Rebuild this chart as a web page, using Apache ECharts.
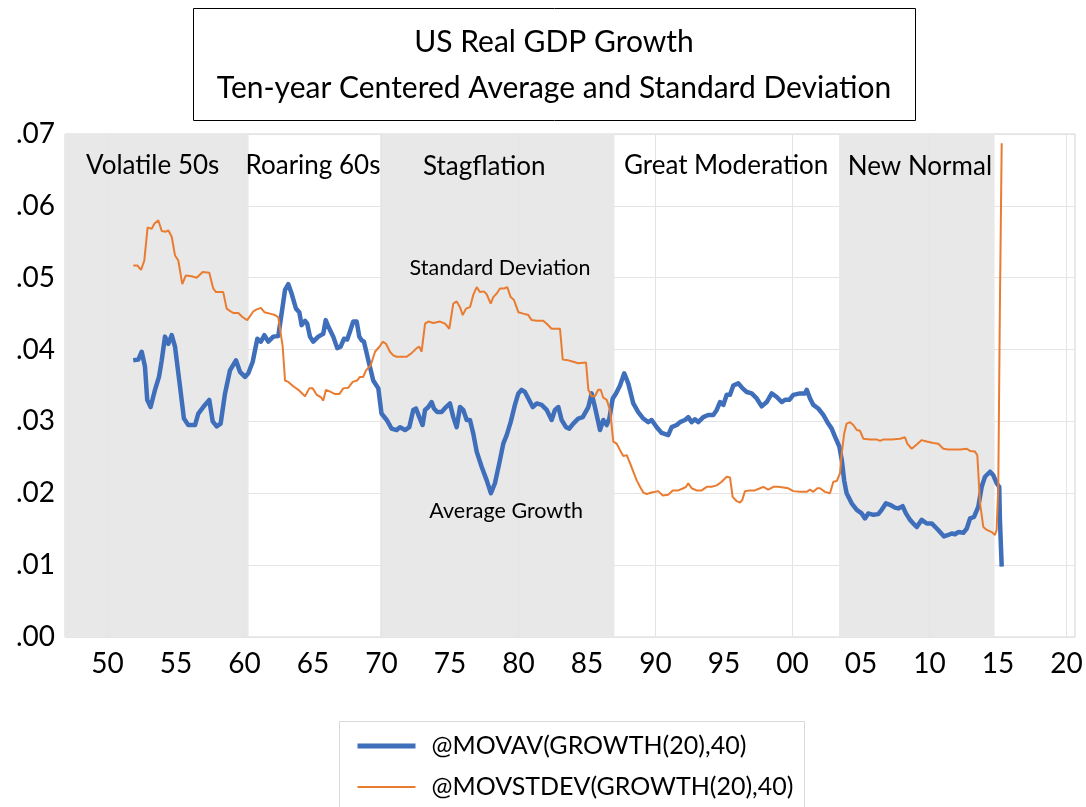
<!DOCTYPE html>
<html><head><meta charset="utf-8">
<script src="https://cdn.jsdelivr.net/npm/echarts@6/dist/echarts.min.js"></script>
<style>html,body{margin:0;padding:0;background:#fff}#c{width:1086px;height:807px}</style>
</head><body><div id="c"></div>
<script>
// ---------- data ----------
const avgYears = [1951.88,1952.25,1952.5,1952.74,1952.9,1953.15,1953.47,1953.76,1953.96,1954.2,1954.44,1954.69,1954.93,1955.24,1955.58,1955.9,1956.39,1956.63,1956.99,1957.43,1957.68,1957.97,1958.26,1958.58,1958.94,1959.38,1959.67,1960.04,1960.28,1960.6,1960.94,1961.2,1961.45,1961.74,1962.1,1962.47,1962.71,1962.96,1963.2,1963.44,1963.76,1964.0,1964.17,1964.42,1964.58,1964.78,1965.02,1965.39,1965.75,1965.93,1966.12,1966.48,1966.77,1967.02,1967.26,1967.5,1967.7,1967.94,1968.19,1968.38,1968.55,1968.72,1969.04,1969.4,1969.77,1970.0,1970.38,1970.74,1971.11,1971.35,1971.72,1972.03,1972.32,1972.52,1972.76,1973.0,1973.18,1973.42,1973.66,1973.83,1974.07,1974.39,1974.71,1975.0,1975.24,1975.49,1975.73,1975.97,1976.22,1976.46,1976.7,1976.95,1977.31,1977.68,1977.99,1978.28,1978.6,1978.89,1979.14,1979.43,1979.74,1979.99,1980.23,1980.47,1980.72,1981.04,1981.33,1981.69,1982.06,1982.42,1982.66,1982.91,1983.15,1983.47,1983.71,1984.0,1984.36,1984.69,1985.1,1985.34,1985.58,1985.95,1986.19,1986.44,1986.63,1986.88,1987.12,1987.41,1987.72,1988.01,1988.38,1988.74,1989.11,1989.47,1989.72,1990.09,1990.45,1990.93,1991.18,1991.55,1991.79,1992.15,1992.39,1992.64,1992.88,1993.12,1993.49,1993.85,1994.22,1994.47,1994.71,1994.95,1995.2,1995.44,1995.68,1996.04,1996.36,1996.66,1997.02,1997.39,1997.75,1998.12,1998.48,1998.85,1999.21,1999.45,1999.77,2000.06,2000.55,2000.91,2001.04,2001.28,2001.52,2001.88,2002.25,2002.61,2002.86,2003.1,2003.42,2003.6,2003.77,2003.95,2004.32,2004.69,2005.05,2005.29,2005.53,2005.9,2006.26,2006.51,2006.82,2007.12,2007.48,2007.72,2008.04,2008.28,2008.58,2008.82,2009.07,2009.43,2009.8,2010.16,2010.53,2010.77,2011.06,2011.37,2011.62,2011.86,2012.1,2012.47,2012.72,2012.96,2013.25,2013.56,2013.81,2014.05,2014.42,2014.66,2014.9,2015.09,2015.14,2015.27];
const avgValues = [.0385,.0386,.0397,.0376,.0330,.0320,.0344,.0362,.0385,.0418,.0408,.0420,.0404,.0357,.0304,.0295,.0295,.0311,.0320,.0330,.0300,.0293,.0297,.0339,.0371,.0385,.0369,.0362,.0367,.0383,.0415,.0411,.0420,.0411,.0418,.0419,.0450,.0483,.0491,.0478,.0457,.0452,.0434,.0440,.0436,.0418,.0411,.0418,.0422,.0441,.0432,.0418,.0402,.0404,.0415,.0414,.0425,.0439,.0439,.0418,.0413,.0411,.0385,.0357,.0346,.0311,.0302,.0290,.0288,.0292,.0288,.0292,.0316,.0318,.0306,.0295,.0316,.0320,.0327,.0318,.0313,.0313,.0320,.0325,.0306,.0292,.0320,.0316,.0302,.0302,.0283,.0258,.0237,.0218,.0200,.0214,.0242,.0269,.0281,.0299,.0323,.0339,.0344,.0341,.0332,.0320,.0325,.0323,.0316,.0302,.0316,.0320,.0302,.0292,.0290,.0297,.0304,.0306,.0320,.0339,.0320,.0288,.0302,.0295,.0304,.0332,.0339,.0350,.0367,.0353,.0325,.0313,.0304,.0299,.0302,.0292,.0284,.0281,.0292,.0295,.0299,.0302,.0306,.0299,.0303,.0299,.0306,.0309,.0309,.0316,.0327,.0323,.0337,.0337,.0350,.0353,.0346,.0341,.0339,.0332,.0321,.0327,.0339,.0334,.0327,.0330,.0330,.0337,.0339,.0339,.0344,.0332,.0323,.0318,.0309,.0297,.0290,.0279,.0265,.0246,.0218,.0200,.0186,.0177,.0172,.0165,.0172,.0170,.0171,.0177,.0186,.0184,.0180,.0179,.0182,.0172,.0163,.0158,.0153,.0163,.0158,.0158,.0151,.0146,.0140,.0142,.0144,.0143,.0146,.0145,.0151,.0165,.0167,.0181,.0209,.0223,.0230,.0225,.0214,.0209,.0163,.0098];

const sdYears = [1951.88,1952.18,1952.45,1952.69,1952.93,1953.23,1953.42,1953.71,1953.96,1954.27,1954.44,1954.69,1954.93,1955.17,1955.46,1955.71,1956.15,1956.51,1956.95,1957.43,1957.72,1957.92,1958.45,1958.7,1958.99,1959.18,1959.55,1959.87,1960.2,1960.64,1960.89,1961.2,1961.45,1961.86,1962.23,1962.47,1962.79,1962.96,1963.2,1963.56,1963.93,1964.42,1964.73,1964.98,1965.27,1965.56,1965.75,1965.95,1966.29,1966.61,1966.92,1967.21,1967.58,1967.9,1968.23,1968.43,1968.67,1968.87,1969.21,1969.53,1969.89,1970.09,1970.33,1970.62,1970.86,1971.11,1971.84,1972.2,1972.57,1972.76,1972.93,1973.18,1973.42,1973.78,1974.27,1974.64,1974.95,1975.24,1975.49,1975.73,1975.93,1976.17,1976.46,1976.7,1976.95,1977.19,1977.48,1977.68,1977.97,1978.16,1978.41,1978.65,1978.94,1979.18,1979.43,1979.67,1979.99,1980.35,1980.72,1980.96,1981.33,1981.81,1982.06,1982.42,1983.03,1983.23,1983.64,1984.0,1984.36,1984.93,1985.1,1985.34,1985.58,1985.82,1986.0,1986.19,1986.44,1986.68,1986.92,1987.17,1987.41,1987.65,1987.9,1988.14,1988.38,1988.63,1988.87,1989.11,1989.36,1989.72,1990.2,1990.53,1990.93,1991.26,1991.66,1992.03,1992.23,1992.39,1992.64,1993.0,1993.37,1993.74,1994.1,1994.47,1994.83,1995.2,1995.44,1995.63,1995.93,1996.17,1996.34,1996.53,1996.9,1997.26,1997.63,1997.87,1998.23,1998.6,1998.96,1999.33,1999.69,2000.06,2000.55,2001.04,2001.28,2001.52,2001.81,2002.01,2002.37,2002.74,2002.98,2003.23,2003.47,2003.59,2003.77,2003.95,2004.2,2004.44,2004.69,2004.93,2005.17,2005.66,2006.15,2006.39,2006.63,2007.24,2007.85,2008.21,2008.38,2008.7,2009.07,2009.43,2009.8,2010.28,2010.64,2011.01,2011.37,2011.74,2012.23,2012.72,2012.96,2013.32,2013.49,2013.69,2013.93,2014.18,2014.54,2014.78,2014.9,2015.02,2015.14,2015.27];
const sdValues = [.0517,.0517,.0511,.0524,.0570,.0568,.0575,.0580,.0565,.0564,.0566,.0557,.0531,.0524,.0491,.0503,.0502,.0500,.0508,.0507,.0485,.0480,.0480,.0457,.0453,.0451,.0451,.0445,.0441,.0453,.0456,.0458,.0452,.0450,.0448,.0445,.0404,.0357,.0355,.0349,.0344,.0335,.0346,.0346,.0337,.0334,.0329,.0344,.0341,.0338,.0338,.0346,.0347,.0355,.0357,.0362,.0362,.0371,.0378,.0397,.0405,.0411,.0408,.0397,.0392,.0390,.0390,.0395,.0402,.0404,.0397,.0436,.0439,.0437,.0439,.0436,.0429,.0464,.0467,.0459,.0448,.0457,.0459,.0476,.0487,.0480,.0481,.0477,.0464,.0473,.0478,.0485,.0485,.0487,.0473,.0469,.0452,.0450,.0448,.0441,.0440,.0440,.0436,.0429,.0429,.0386,.0385,.0383,.0381,.0382,.0344,.0335,.0335,.0344,.0344,.0333,.0330,.0316,.0272,.0269,.0260,.0252,.0253,.0242,.0230,.0218,.0209,.0201,.0199,.0201,.0203,.0197,.0198,.0204,.0204,.0207,.0209,.0214,.0207,.0204,.0204,.0209,.0209,.0211,.0216,.0223,.0222,.0195,.0189,.0187,.0191,.0203,.0204,.0204,.0207,.0209,.0205,.0209,.0209,.0208,.0207,.0203,.0202,.0202,.0205,.0202,.0207,.0207,.0202,.0200,.0216,.0217,.0228,.0255,.0283,.0297,.0299,.0295,.0288,.0287,.0276,.0275,.0275,.0273,.0275,.0275,.0276,.0278,.0269,.0262,.0268,.0274,.0272,.0270,.0269,.0262,.0261,.0261,.0261,.0262,.0259,.0258,.0253,.0186,.0153,.0149,.0146,.0142,.0149,.0209,.0464,.0687];

const xTickYears = [1950,1955,1960,1965,1970,1975,1980,1985,1990,1995,2000,2005,2010,2015,2020];
const xGridYears = [1950,1960,1970,1980,1990,2000,2010,2020];
const shadedEras = [[1946.9,1960.3],[1969.9,1987.0],[2003.4,2014.75]];
const eraNames = ['Volatile 50s','Roaring 60s','Stagflation','Great Moderation','New Normal'];
const seriesNames = ['@MOVAV(GROWTH(20),40)','@MOVSTDEV(GROWTH(20),40)'];
const titleLines = ['US Real GDP Growth','Ten-year Centered Average and Standard Deviation'];
const lineNotes = ['Standard Deviation','Average Growth'];

// ---------- chart ----------
const FONT = 'Lato, "Noto Sans", sans-serif';
const BLUE = '#3F6EBB', ORANGE = '#E97C30';
const zip = (xs, ys) => xs.map((x, i) => [x, ys[i]]);
const chart = echarts.init(document.getElementById('c'), null, {renderer: 'canvas'});

const eraLabelPos = [[1953.3,0.0656],[1965.0,0.0656],[1977.5,0.0654],[1995.15,0.0656],[2009.3,0.0654]];
const notePos = [[1978.65,0.0513],[1979.1,0.0175]];

chart.setOption({
  animation: false,
  backgroundColor: '#fff',
  textStyle: {fontFamily: FONT},
  grid: {left: 65, right: 11, top: 134, bottom: 170, show: true, borderColor: '#d4d4d4', borderWidth: 1, backgroundColor: '#fff'},
  graphic: [
    {type: 'rect', left: 193, top: 8, shape: {width: 722, height: 112}, style: {fill: '#fff', stroke: '#000', lineWidth: 1}, z: 10},
    {type: 'text', x: 554, y: 42, style: {text: titleLines[0], font: '30px ' + FONT, fill: '#000', textAlign: 'center', textVerticalAlign: 'middle'}, z: 11},
    {type: 'text', x: 554, y: 88, style: {text: titleLines[1], font: '30px ' + FONT, fill: '#000', textAlign: 'center', textVerticalAlign: 'middle'}, z: 11},
    {type: 'rect', left: 339, top: 721, shape: {width: 465, height: 110}, style: {fill: '#fff', stroke: '#d9d9d9', lineWidth: 1}, z: 0, silent: true}
  ],
  legend: {
    data: [
      {name: seriesNames[0], lineStyle: {width: 5}},
      {name: seriesNames[1], lineStyle: {width: 2}}
    ],
    orient: 'vertical', left: 355, top: 731,
    padding: 0, itemGap: 11,
    itemWidth: 58, itemHeight: 14,
    itemStyle: {opacity: 0, borderWidth: 0},
    textStyle: {fontSize: 25, lineHeight: 30, color: '#000', fontFamily: FONT, padding: [0, 0, 0, 11]}
  },
  xAxis: {
    type: 'value', min: 1946.9, max: 2020.62,
    axisLine: {show: false}, axisTick: {show: false}, splitLine: {show: false},
    axisLabel: {
      customValues: xTickYears, fontSize: 28, color: '#000', margin: 13,
      formatter: v => String(Math.round(v) % 100).padStart(2, '0')
    }
  },
  yAxis: {
    type: 'value', min: 0, max: 0.07, interval: 0.01,
    axisLine: {show: false}, axisTick: {show: false},
    splitLine: {lineStyle: {color: '#e4e4e4', width: 1}},
    axisLabel: {fontSize: 28, color: '#000', margin: 10, formatter: v => v.toFixed(2).replace(/^0/, '')}
  },
  series: [
    {
      name: 'eras', type: 'line', data: [], silent: true, z: 1,
      markArea: {silent: true, z: 1, itemStyle: {color: '#e8e8e8'}, data: shadedEras.map(e => [{xAxis: e[0]}, {xAxis: e[1]}])},
      markLine: {silent: true, z: 2, symbol: 'none', label: {show: false}, lineStyle: {color: '#e4e4e4', width: 1, type: 'solid'}, data: xGridYears.map(y => ({xAxis: y}))},
      markPoint: {
        symbol: 'circle', symbolSize: 0, silent: true, z: 6,
        label: {show: true, position: 'inside', formatter: '{b}', fontSize: 26, color: '#000', fontFamily: FONT},
        data: eraNames.map((n, i) => ({name: n, coord: eraLabelPos[i]}))
          .concat(lineNotes.map((n, i) => ({name: n, coord: notePos[i], label: {fontSize: 21.5}})))
      }
    },
    {
      name: seriesNames[0], type: 'line', data: zip(avgYears, avgValues), z: 3,
      symbol: 'none', showSymbol: false,
      lineStyle: {color: BLUE, width: 4.5, join: 'round'}, itemStyle: {color: BLUE}
    },
    {
      name: seriesNames[1], type: 'line', data: zip(sdYears, sdValues), z: 4,
      symbol: 'none', showSymbol: false,
      lineStyle: {color: ORANGE, width: 2}, itemStyle: {color: ORANGE}
    }
  ]
});
</script></body></html>
